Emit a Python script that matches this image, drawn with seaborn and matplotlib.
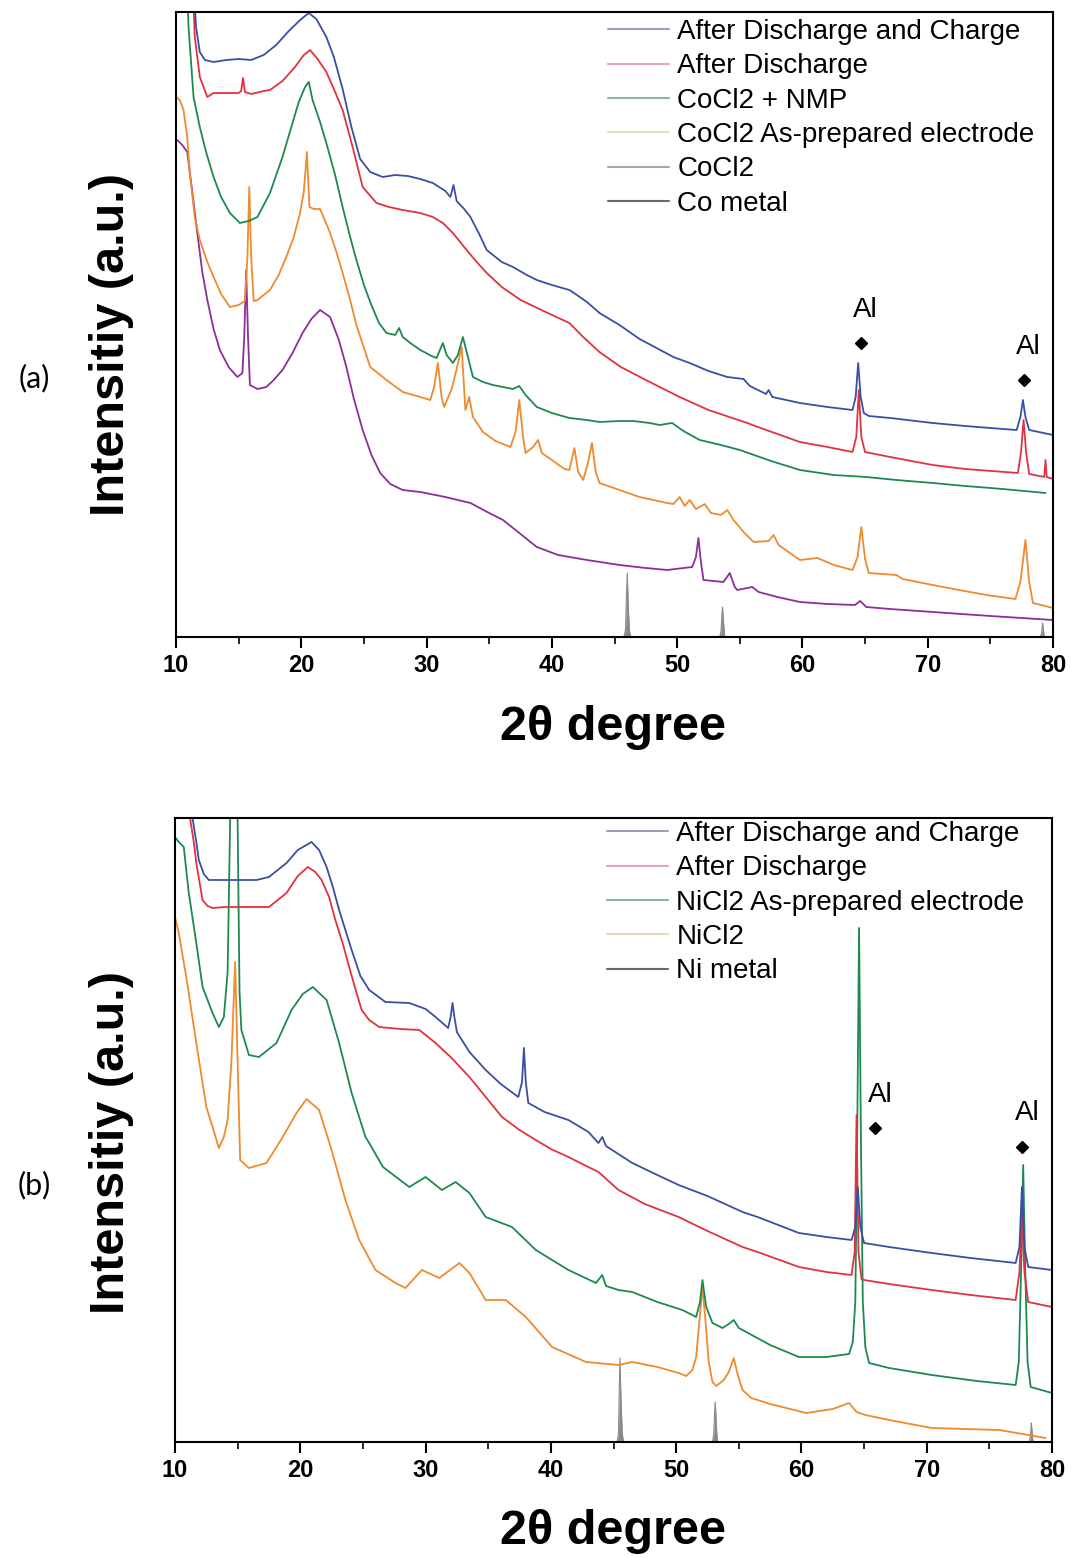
import matplotlib
matplotlib.use("Agg")
import matplotlib.pyplot as plt
from matplotlib.lines import Line2D
from matplotlib.ticker import MultipleLocator
import pandas as pd
import seaborn as sns

# ---------------- (a) CoCl2 cell: (2theta, intensity) ----------------
co_dis_chg = [(10.9, 760), (11.4, 650), (11.6, 610), (11.9, 585), (12.3, 577), (13.0, 575), (14.0, 577),
              (15.0, 578), (16.0, 577), (17.0, 582), (18.0, 592), (19.0, 606), (20.0, 618), (20.6, 624),
              (21.2, 618), (22.0, 600), (22.6, 580), (23.3, 548), (24.0, 510), (24.7, 478), (25.5, 465),
              (26.5, 460), (27.5, 462), (28.5, 461), (29.5, 458), (30.5, 454), (31.5, 446), (31.9, 440),
              (32.15, 452), (32.4, 436), (33.0, 428), (33.5, 420), (34.2, 403), (34.8, 387), (36.0, 375),
              (36.9, 370), (38.0, 362), (38.8, 357), (40.0, 352), (41.4, 347), (42.0, 342), (42.8, 335),
              (43.8, 324), (45.4, 312), (47.0, 298), (48.5, 288), (49.7, 280), (51.0, 274), (52.5, 266),
              (54.0, 260), (55.3, 258), (55.8, 251), (57.1, 243), (57.3, 247), (57.6, 240), (59.8, 234),
              (62.0, 230), (64.0, 227), (64.25, 240), (64.45, 274), (64.65, 240), (64.9, 224), (65.3, 221),
              (67.0, 219), (70.4, 214), (73.0, 211), (75.0, 209), (77.1, 207), (77.4, 220), (77.6, 237),
              (77.8, 220), (78.1, 207), (78.5, 206), (80.0, 202)]
co_dis = [(11.0, 760), (11.5, 600), (11.9, 560), (12.5, 540), (13.0, 544), (14.0, 544), (15.0, 544),
          (15.2, 546), (15.35, 559), (15.5, 545), (16.0, 543), (17.0, 546), (17.5, 547), (18.5, 556),
          (19.5, 570), (20.2, 582), (20.7, 587), (21.3, 578), (22.0, 565), (22.7, 545), (23.3, 527),
          (24.1, 490), (24.9, 450), (26.0, 434), (27.0, 430), (28.1, 427), (29.5, 424), (30.5, 420),
          (31.3, 414), (32.1, 404), (33.0, 390), (34.0, 375), (34.8, 364), (36.0, 350), (37.5, 337),
          (39.5, 325), (41.4, 314), (42.5, 300), (43.8, 285), (45.5, 270), (47.5, 257), (50.2, 240),
          (52.5, 227), (55.6, 214), (56.0, 212), (59.8, 195), (62.0, 190), (64.0, 185), (64.3, 200),
          (64.5, 247), (64.7, 200), (65.0, 185), (67.0, 180), (70.4, 172), (73.0, 168), (77.2, 164),
          (77.45, 185), (77.65, 217), (77.85, 185), (78.1, 163), (79.3, 160), (79.4, 177), (79.5, 160),
          (80.0, 158)]
co_nmp = [(10.6, 760), (11.0, 610), (11.4, 540), (11.9, 510), (12.4, 485), (13.0, 460), (13.6, 440),
          (14.3, 424), (15.1, 414), (15.8, 416), (16.5, 420), (17.5, 444), (18.5, 480), (19.3, 514),
          (19.8, 535), (20.3, 550), (20.6, 555), (20.9, 537), (21.5, 515), (22.0, 494), (22.7, 462),
          (23.3, 430), (23.9, 400), (24.4, 377), (25.0, 352), (25.5, 335), (26.2, 314), (26.8, 304),
          (27.5, 302), (27.8, 309), (28.1, 300), (28.7, 294), (29.5, 287), (30.4, 281), (30.8, 279),
          (31.3, 294), (31.6, 282), (32.1, 274), (32.5, 282), (32.9, 300), (33.3, 280), (33.7, 260),
          (34.5, 255), (35.3, 252), (36.1, 250), (36.9, 248), (37.4, 251), (37.9, 242), (38.8, 230),
          (40.0, 224), (41.4, 219), (42.8, 217), (43.8, 215), (45.4, 216), (46.5, 216), (47.8, 214),
          (48.6, 212), (49.6, 214), (50.5, 206), (51.8, 197), (53.5, 192), (55.0, 187), (57.5, 176),
          (59.8, 167), (62.5, 162), (65.1, 160), (67.5, 157), (70.4, 154), (73.0, 151), (76.0, 148),
          (79.4, 144)]
co_prep = [(10.0, 540), (10.3, 537), (10.6, 527), (10.9, 500), (11.1, 464), (11.5, 420), (11.9, 397),
           (12.5, 375), (13.0, 360), (13.6, 343), (14.3, 330), (15.0, 332), (15.5, 336), (15.7, 380),
           (15.85, 450), (16.0, 380), (16.2, 336), (16.5, 337), (17.5, 347), (18.2, 362), (18.8, 380),
           (19.4, 400), (19.9, 424), (20.2, 445), (20.45, 485), (20.65, 430), (21.0, 428), (21.5, 428),
           (22.3, 404), (22.8, 385), (23.3, 364), (23.9, 337), (24.4, 312), (25.5, 270), (26.8, 257),
           (28.1, 245), (29.5, 240), (30.3, 237), (30.6, 250), (30.9, 274), (31.2, 240), (31.4, 230),
           (32.0, 248), (32.4, 268), (32.8, 290), (33.1, 227), (33.4, 240), (33.7, 220), (34.5, 205),
           (35.5, 196), (36.7, 190), (37.1, 205), (37.4, 237), (37.7, 200), (37.9, 184), (38.5, 190),
           (38.9, 197), (39.2, 184), (40.0, 177), (41.0, 168), (41.4, 167), (41.8, 189), (42.1, 165),
           (42.5, 157), (42.9, 175), (43.2, 194), (43.5, 165), (43.8, 154), (45.4, 147), (47.0, 140),
           (49.2, 134), (49.7, 133), (50.2, 140), (50.6, 131), (51.0, 137), (51.5, 128), (52.2, 133),
           (52.7, 124), (53.5, 122), (54.0, 127), (54.5, 117), (55.3, 105), (56.1, 95), (57.3, 96),
           (57.7, 102), (58.1, 92), (59.8, 77), (61.2, 79), (62.5, 72), (64.0, 67), (64.4, 80),
           (64.7, 110), (65.0, 78), (65.3, 64), (67.5, 62), (68.0, 58), (70.4, 52), (72.5, 47),
           (74.7, 42), (77.0, 38), (77.4, 55), (77.8, 97), (78.1, 55), (78.4, 34), (80.0, 29)]
co_cl2 = [(10.1, 497), (10.5, 492), (10.9, 485), (11.3, 445), (11.7, 404), (12.1, 365), (12.5, 337),
          (13.0, 308), (13.5, 287), (14.2, 270), (14.9, 260), (15.3, 264), (15.45, 300), (15.6, 367),
          (15.75, 300), (15.9, 252), (16.5, 248), (17.2, 250), (17.8, 257), (18.5, 267), (19.3, 284),
          (20.1, 304), (20.8, 318), (21.5, 327), (22.3, 320), (23.0, 297), (23.6, 270), (24.2, 238),
          (24.9, 207), (25.6, 182), (26.3, 164), (27.1, 153), (28.1, 147), (29.5, 145), (31.5, 140),
          (33.5, 134), (35.0, 124), (36.1, 117), (37.5, 103), (38.8, 90), (40.5, 82), (42.8, 77),
          (45.4, 72), (47.5, 69), (49.2, 67), (51.2, 70), (51.5, 80), (51.7, 99), (51.9, 75),
          (52.1, 57), (53.7, 55), (54.2, 64), (54.6, 50), (54.8, 47), (56.0, 50), (56.5, 45),
          (58.0, 40), (59.8, 35), (62.0, 33), (64.2, 32), (64.6, 36), (65.1, 30), (67.0, 28),
          (70.4, 25), (75.0, 21), (80.0, 17)]
co_metal = [(10.0, 0), (45.75, 0), (45.88, 8), (45.96, 45), (46.02, 64), (46.07, 42), (46.12, 24),
            (46.2, 6), (46.3, 0), (53.4, 0), (53.5, 6), (53.57, 22), (53.62, 30), (53.67, 20),
            (53.72, 12), (53.8, 0), (79.0, 0), (79.1, 5), (79.17, 14), (79.22, 9), (79.3, 0), (80.0, 0)]

# ---------------- (b) NiCl2 cell: (2theta, intensity) ----------------
ni_dis_chg = [(11.0, 760), (11.4, 624), (11.7, 600), (11.9, 582), (12.3, 568), (12.7, 562), (13.5, 562),
              (15.0, 562), (16.5, 562), (17.5, 565), (18.9, 579), (19.8, 592), (20.9, 600), (21.5, 592),
              (22.1, 575), (22.6, 555), (23.1, 532), (24.1, 492), (24.8, 466), (25.5, 452), (26.8, 440),
              (28.7, 439), (30.0, 433), (30.8, 425), (31.8, 414), (32.0, 425), (32.15, 439), (32.3, 425),
              (32.5, 410), (33.5, 390), (34.8, 372), (36.0, 358), (37.4, 345), (37.7, 360), (37.85, 394),
              (38.0, 360), (38.2, 339), (39.5, 330), (41.4, 322), (43.0, 310), (43.8, 299), (44.1, 305),
              (44.4, 296), (46.5, 279), (48.5, 267), (50.2, 257), (52.5, 246), (55.3, 230), (56.5, 225),
              (59.8, 209), (62.0, 205), (64.0, 202), (64.3, 215), (64.5, 255), (64.7, 215), (65.0, 199),
              (67.0, 195), (70.4, 189), (73.5, 184), (77.1, 179), (77.4, 195), (77.6, 255), (77.8, 195),
              (78.1, 175), (80.0, 172)]
ni_dis = [(11.0, 760), (11.2, 624), (11.5, 600), (11.7, 579), (12.2, 542), (12.6, 536), (13.0, 534),
          (14.0, 535), (15.0, 535), (16.0, 535), (17.5, 535), (18.9, 549), (19.8, 566), (20.6, 575),
          (21.2, 570), (21.7, 562), (22.3, 545), (22.8, 522), (23.4, 498), (23.9, 475), (24.4, 453),
          (24.9, 432), (25.5, 422), (26.3, 415), (28.0, 413), (29.5, 412), (30.8, 399), (32.0, 385),
          (33.5, 365), (34.8, 345), (36.1, 325), (37.5, 312), (38.8, 302), (40.0, 293), (41.4, 285),
          (42.5, 278), (43.8, 270), (45.4, 252), (47.5, 238), (50.2, 225), (52.5, 211), (55.3, 195),
          (56.5, 190), (59.8, 175), (62.0, 170), (64.0, 167), (64.25, 190), (64.4, 327), (64.55, 190),
          (64.8, 163), (65.0, 162), (67.0, 158), (70.4, 152), (73.5, 147), (77.1, 142), (77.4, 170),
          (77.6, 229), (77.8, 170), (78.1, 140), (80.0, 135)]
ni_prep = [(10.0, 605), (10.3, 600), (10.7, 595), (11.1, 549), (11.7, 499), (12.2, 455), (13.0, 429),
           (13.5, 415), (13.9, 425), (14.2, 470), (14.4, 620), (14.55, 800), (14.85, 800), (15.0, 620),
           (15.15, 450), (15.3, 412), (15.9, 387), (16.7, 385), (18.1, 399), (19.3, 432), (20.2, 448),
           (21.0, 455), (22.1, 442), (23.1, 399), (24.1, 349), (25.2, 305), (25.5, 299), (26.6, 275),
           (28.7, 255), (30.0, 265), (31.3, 252), (32.4, 260), (33.5, 249), (34.8, 225), (36.9, 215),
           (38.8, 192), (41.4, 172), (43.6, 159), (44.1, 167), (44.4, 156), (45.4, 152), (46.5, 150),
           (48.5, 140), (50.5, 132), (51.6, 125), (51.9, 140), (52.1, 162), (52.4, 135), (52.9, 119),
           (53.7, 114), (54.2, 118), (54.6, 122), (55.0, 114), (55.3, 112), (57.5, 97), (59.8, 85),
           (62.0, 85), (63.8, 88), (64.1, 100), (64.3, 140), (64.45, 300), (64.6, 514), (64.75, 300),
           (64.9, 140), (65.1, 95), (65.4, 79), (67.0, 74), (70.4, 67), (74.0, 61), (77.1, 57),
           (77.35, 80), (77.55, 180), (77.7, 277), (77.85, 180), (78.05, 80), (78.3, 55), (80.0, 49)]
ni_cl2 = [(10.0, 525), (10.3, 509), (10.9, 465), (11.7, 399), (12.5, 335), (13.0, 315), (13.5, 294),
          (13.9, 305), (14.2, 322), (14.5, 380), (14.8, 480), (15.0, 380), (15.2, 282), (15.9, 274),
          (17.3, 279), (18.6, 305), (19.7, 329), (20.5, 343), (21.5, 332), (22.5, 292), (23.6, 242),
          (24.7, 202), (26.0, 172), (27.6, 159), (28.4, 154), (29.7, 172), (31.1, 164), (32.7, 179),
          (33.5, 169), (34.8, 142), (36.4, 142), (38.0, 125), (40.1, 95), (42.8, 80), (45.4, 77),
          (46.5, 80), (48.5, 75), (50.2, 69), (50.8, 66), (51.3, 72), (51.6, 85), (51.85, 120),
          (52.1, 155), (52.35, 120), (52.6, 80), (52.9, 60), (53.2, 56), (53.8, 62), (54.2, 70),
          (54.6, 84), (54.9, 68), (55.3, 52), (56.0, 44), (57.5, 38), (60.4, 29), (62.5, 33),
          (63.8, 39), (64.4, 30), (65.1, 27), (67.0, 22), (70.4, 14), (75.8, 12), (79.5, 4)]
ni_metal = [(10.0, 0), (45.3, 0), (45.4, 10), (45.47, 60), (45.52, 84), (45.57, 55), (45.63, 30),
            (45.7, 8), (45.8, 0), (52.9, 0), (53.0, 8), (53.07, 30), (53.12, 40), (53.17, 28),
            (53.23, 12), (53.3, 0), (78.2, 0), (78.28, 6), (78.35, 19), (78.4, 12), (78.48, 0), (80.0, 0)]

labels_a = ["After Discharge and Charge", "After Discharge", "CoCl2 + NMP",
            "CoCl2 As-prepared electrode", "CoCl2", "Co metal"]
labels_b = ["After Discharge and Charge", "After Discharge", "NiCl2 As-prepared electrode",
            "NiCl2", "Ni metal"]

# Al reflections: marker position and label position (2theta, intensity)
al_marks_a = [(64.67, 294), (77.68, 257)]
al_text_a = [(65.0, 327), (78.0, 290)]
al_marks_b = [(65.9, 314), (77.6, 295)]
al_text_b = [(66.3, 347), (78.0, 329)]

BLUE, RED, GREEN, ORANGE, PURPLE, GRAY = "#3a4fa3", "#e2323f", "#1c8a4f", "#ef8a2d", "#8c2f97", "#8a8a8a"
LEG_A = ["#98a1b6", "#e3a4ac", "#8fb0a8", "#e6dcc2", "#aaa3b0", "#6a6a6a"]
LEG_B = ["#98a1b6", "#e3a4ac", "#8fb0a8", "#e6d6bc", "#6a6a6a"]

sns.set_style("white")
plt.rcParams["font.family"] = ["Liberation Sans", "DejaVu Sans"]
plt.rcParams["text.color"] = "black"
plt.rcParams["axes.labelcolor"] = "black"
plt.rcParams["xtick.color"] = "black"
plt.rcParams["ytick.color"] = "black"

fig = plt.figure(figsize=(10.71, 15.58), dpi=100)
W, H = 1071.0, 1558.0


def px_axes(left, top, right, bottom):
    return fig.add_axes([left / W, 1 - bottom / H, (right - left) / W, (bottom - top) / H])


def trace(ax, pts, color, lw=1.3):
    df = pd.DataFrame(pts, columns=["two_theta", "intensity"])
    sns.lineplot(data=df, x="two_theta", y="intensity", ax=ax, color=color, lw=lw,
                 estimator=None, sort=False)


def reference(ax, pts):
    df = pd.DataFrame(pts, columns=["two_theta", "intensity"])
    ax.fill_between(df["two_theta"], 0, df["intensity"], color=GRAY, lw=0)
    sns.lineplot(data=df, x="two_theta", y="intensity", ax=ax, color=GRAY, lw=0.8,
                 estimator=None, sort=False)


def style_axes(ax, ytop):
    ax.set_xlim(10, 80)
    ax.set_ylim(0, ytop)
    ax.set_yticks([])
    ax.set_xticks(range(10, 81, 10))
    ax.set_xticklabels([str(v) for v in range(10, 81, 10)], fontweight="bold", fontsize=17)
    ax.xaxis.set_minor_locator(MultipleLocator(5))
    ax.tick_params(axis="x", which="major", direction="out", length=8, width=1.5, pad=4.5,
                   bottom=True, top=False, colors="black")
    ax.tick_params(axis="x", which="minor", direction="out", length=5, width=1.2,
                   bottom=True, top=False, colors="black")
    ax.set_xlabel("")
    ax.set_ylabel("")
    for s in ax.spines.values():
        s.set_visible(True)
        s.set_color("black")
        s.set_linewidth(1.5)


def legend(ax, labels, colors, top_y):
    handles = [Line2D([0], [0], color=c, lw=1.5) for c in colors]
    ax.legend(handles, labels, loc="upper left", bbox_to_anchor=(0.4926, top_y),
              frameon=False, fontsize=20, borderpad=0, borderaxespad=0,
              handlelength=2.2, handletextpad=0.3, labelspacing=0.3, labelcolor="black")


def al_labels(ax, marks, texts):
    for (mx, my), (tx, ty) in zip(marks, texts):
        ax.plot(mx, my, marker="D", ms=6, color="black", ls="none")
        ax.text(tx, ty, "Al", ha="center", va="center", fontsize=20, color="black")


# ---- panel (a) ----
ax_a = px_axes(176, 12, 1053, 637)
reference(ax_a, co_metal)
trace(ax_a, co_cl2, PURPLE)
trace(ax_a, co_prep, ORANGE)
trace(ax_a, co_nmp, GREEN)
trace(ax_a, co_dis, RED)
trace(ax_a, co_dis_chg, BLUE)
style_axes(ax_a, 625)
legend(ax_a, labels_a, LEG_A, 0.9888)
al_labels(ax_a, al_marks_a, al_text_a)

# ---- panel (b) ----
ax_b = px_axes(175, 818, 1052, 1442)
reference(ax_b, ni_metal)
trace(ax_b, ni_cl2, ORANGE)
trace(ax_b, ni_prep, GREEN)
trace(ax_b, ni_dis, RED)
trace(ax_b, ni_dis_chg, BLUE)
style_axes(ax_b, 624)
legend(ax_b, labels_b, LEG_B, 0.9952)
al_labels(ax_b, al_marks_b, al_text_b)

# axis titles and panel tags
for yc_lab, yc_x, yc_tag, tag in [(345, 728, 378, "(a)"), (1142, 1532, 1185, "(b)")]:
    fig.text(112 / W, 1 - yc_lab / H, "Intensitiy (a.u.)", rotation=90, ha="center", va="center",
             fontsize=35, fontweight="bold", color="black")
    fig.text(613 / W, 1 - yc_x / H, "2\u03b8 degree", ha="center", va="center",
             fontsize=35, fontweight="bold", color="black")
    fig.text(34 / W, 1 - yc_tag / H, tag, ha="center", va="center", fontsize=22,
             family=["Lato", "DejaVu Sans"], color="black")

fig.savefig("out.png", dpi=100)
